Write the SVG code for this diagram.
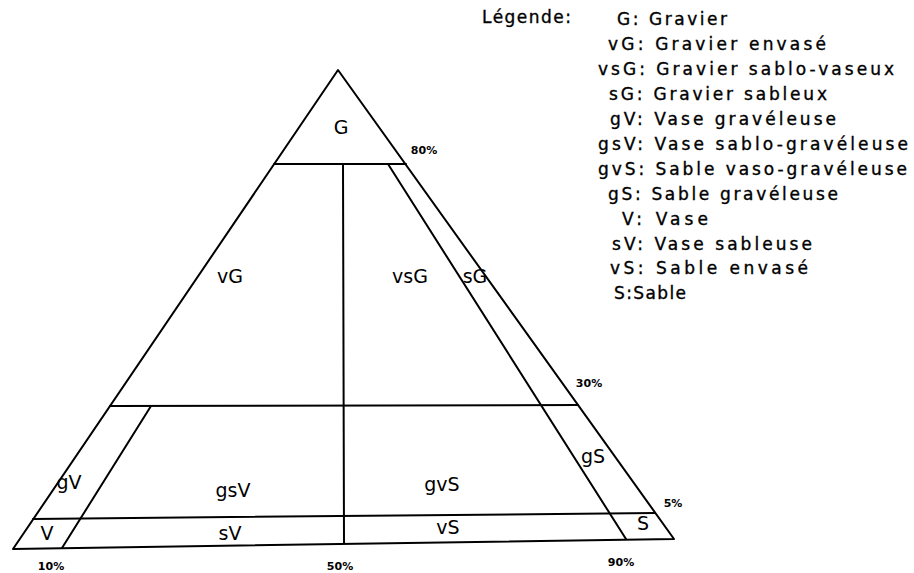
<svg xmlns="http://www.w3.org/2000/svg" width="914" height="573" viewBox="0 0 914 573">
<style>
.ln{stroke:#000;stroke-width:2;fill:none;stroke-linecap:round;stroke-linejoin:round}
.lb{font-family:"DejaVu Sans","Liberation Sans",sans-serif;font-size:19px;fill:#000;text-anchor:middle}
.pc{font-family:"DejaVu Sans","Liberation Sans",sans-serif;font-size:11px;font-weight:bold;fill:#000;text-anchor:middle}
.lg{font-family:"DejaVu Sans","Liberation Sans",sans-serif;font-size:17px;fill:#000;stroke:#000;stroke-width:0.35}
</style>
<rect width="914" height="573" fill="#fff"/>
<g id="connectors">
<polygon class="ln" points="338,70 674,539 13,549"/>
<line class="ln" x1="274" y1="164" x2="406" y2="164"/>
<line class="ln" x1="343" y1="164" x2="344" y2="543"/>
<line class="ln" x1="110" y1="406" x2="578" y2="405"/>
<line class="ln" x1="33" y1="519" x2="655" y2="513"/>
<line class="ln" x1="151" y1="406" x2="62" y2="548"/>
<line class="ln" x1="388" y1="164" x2="626" y2="539"/>
</g>
<g id="zone-G"><text class="lb" x="341" y="134" font-size="20">G</text></g>
<g id="zone-vG"><text class="lb" x="230" y="283">vG</text></g>
<g id="zone-vsG"><text class="lb" x="410" y="283">vsG</text></g>
<g id="zone-sG"><text class="lb" x="475" y="283">sG</text></g>
<g id="zone-gsV"><text class="lb" x="233" y="497">gsV</text></g>
<g id="zone-gvS"><text class="lb" x="442" y="491">gvS</text></g>
<g id="zone-gS"><text class="lb" x="593" y="463">gS</text></g>
<g id="zone-gV"><text class="lb" x="69" y="489">gV</text></g>
<g id="zone-V"><text class="lb" x="47" y="540">V</text></g>
<g id="zone-sV"><text class="lb" x="230" y="540">sV</text></g>
<g id="zone-vS"><text class="lb" x="448" y="534">vS</text></g>
<g id="zone-S"><text class="lb" x="643" y="530">S</text></g>
<g id="percent-labels">
<text class="pc" x="424" y="154">80%</text>
<text class="pc" x="589" y="387">30%</text>
<text class="pc" x="673" y="507">5%</text>
<text class="pc" x="51" y="570">10%</text>
<text class="pc" x="340" y="570">50%</text>
<text class="pc" x="621" y="566">90%</text>
</g>
<g id="legend">
<text class="lg" x="482" y="23" textLength="89" lengthAdjust="spacing">Légende:</text>
<text class="lg" x="617" y="25" textLength="110" lengthAdjust="spacing">G: Gravier</text>
<text class="lg" x="608" y="50" textLength="218" lengthAdjust="spacing">vG: Gravier envasé</text>
<text class="lg" x="598" y="75" textLength="296" lengthAdjust="spacing">vsG: Gravier sablo-vaseux</text>
<text class="lg" x="609" y="100" textLength="218" lengthAdjust="spacing">sG: Gravier sableux</text>
<text class="lg" x="610" y="125" textLength="226" lengthAdjust="spacing">gV: Vase gravéleuse</text>
<text class="lg" x="598" y="150" textLength="310" lengthAdjust="spacing">gsV: Vase sablo-gravéleuse</text>
<text class="lg" x="598" y="175" textLength="309" lengthAdjust="spacing">gvS: Sable vaso-gravéleuse</text>
<text class="lg" x="608" y="200" textLength="230" lengthAdjust="spacing">gS: Sable gravéleuse</text>
<text class="lg" x="622" y="225" textLength="86" lengthAdjust="spacing">V: Vase</text>
<text class="lg" x="612" y="250" textLength="200" lengthAdjust="spacing">sV: Vase sableuse</text>
<text class="lg" x="610" y="274" textLength="198" lengthAdjust="spacing">vS: Sable envasé</text>
<text class="lg" x="614" y="299" textLength="72" lengthAdjust="spacing">S:Sable</text>
</g>
</svg>
